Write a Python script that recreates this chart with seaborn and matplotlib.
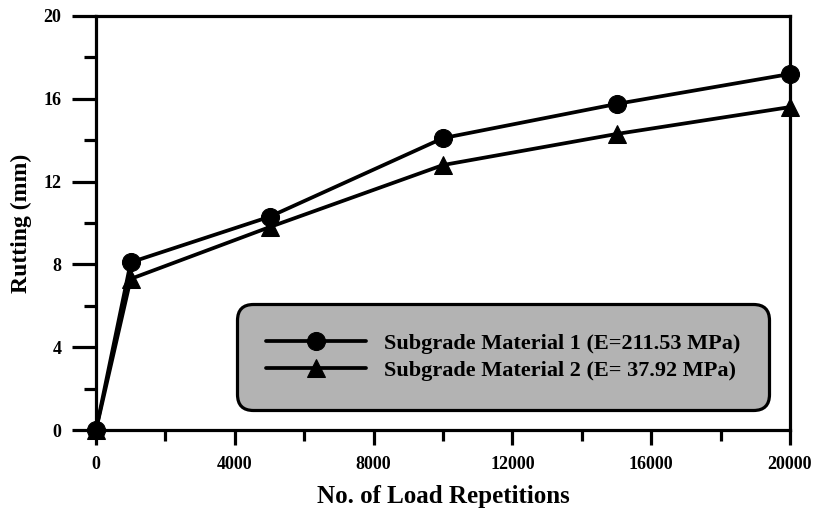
import matplotlib
matplotlib.use("Agg")
import matplotlib.pyplot as plt
import seaborn as sns
import pandas as pd
from matplotlib.ticker import MultipleLocator

repetitions = [0, 1000, 5000, 10000, 15000, 20000]
material1 = [0, 8.1, 10.3, 14.1, 15.75, 17.2]
material2 = [0, 7.3, 9.8, 12.8, 14.3, 15.6]
labels = ["Subgrade Material 1 (E=211.53 MPa)", "Subgrade Material 2 (E= 37.92 MPa)"]
xticks = [0, 4000, 8000, 12000, 16000, 20000]
yticks = [0, 4, 8, 12, 16, 20]

sns.set_theme(style="white")
plt.rcParams['font.family'] = ['Liberation Serif', 'DejaVu Serif']
plt.rcParams['font.weight'] = 'bold'
for k in ["text.color", "axes.labelcolor", "xtick.color", "ytick.color", "axes.edgecolor"]:
    plt.rcParams[k] = "black"

df = pd.DataFrame({
    "x": repetitions * 2,
    "y": material1 + material2,
    "series": [labels[0]] * len(repetitions) + [labels[1]] * len(repetitions),
})

fig = plt.figure(figsize=(8.16, 5.11), dpi=100)
ax = fig.add_axes([96/816, 81/511, 694/816, 414/511])

sns.lineplot(data=df, x="x", y="y", hue="series", style="series",
             palette=["black", "black"], markers=["o", "^"], dashes=False,
             linewidth=2.7, markersize=13, markeredgecolor="black",
             ax=ax, legend=True, clip_on=False)

ax.set_xlim(0, 20000)
ax.set_ylim(0, 20)
ax.set_xticks(xticks)
ax.set_yticks(yticks)
ax.xaxis.set_minor_locator(MultipleLocator(2000))
ax.yaxis.set_minor_locator(MultipleLocator(2))
for s in ax.spines.values():
    s.set_linewidth(2.3)
    s.set_color("black")
ax.tick_params(axis="y", which="major", direction="out", length=17, width=2.3, pad=8, labelsize=13, left=True)
ax.tick_params(axis="y", which="minor", direction="out", length=9, width=2.3, left=True)
ax.tick_params(axis="x", which="major", direction="out", length=11, width=2.3, pad=8, labelsize=13, bottom=True)
ax.tick_params(axis="x", which="minor", direction="out", length=8, width=2.3, bottom=True)
for lbl in ax.get_xticklabels() + ax.get_yticklabels():
    lbl.set_fontweight("bold")

ax.set_xlabel("No. of Load Repetitions", fontsize=18, fontweight="bold", labelpad=8)
ax.set_ylabel("Rutting (mm)", fontsize=17, fontweight="bold", labelpad=8)

leg = ax.legend(loc="center", bbox_to_anchor=(0.5865, 0.176),
                handlelength=4.5, handletextpad=0.8, borderpad=1.3, labelspacing=0.3,
                fancybox=True, framealpha=1, prop={"weight": "bold", "size": 16})
frame = leg.get_frame()
frame.set_facecolor("#b3b3b3")
frame.set_edgecolor("black")
frame.set_linewidth(2.3)
frame.set_boxstyle("round,pad=0,rounding_size=0.7")
for t in leg.get_texts():
    t.set_fontweight("bold")

fig.savefig("out.png", dpi=100)
